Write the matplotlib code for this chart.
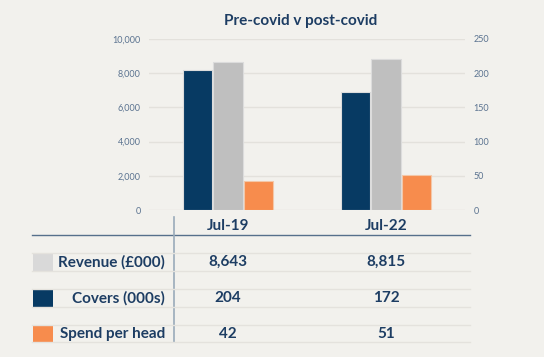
import matplotlib
matplotlib.use("Agg")
import matplotlib.pyplot as plt
from matplotlib.lines import Line2D
from matplotlib.patches import Rectangle

categories = ["Jul-19", "Jul-22"]
revenue = [8643, 8815]
covers = [204, 172]
spend = [42, 51]
row_labels = ["Revenue (£000)", "Covers (000s)", "Spend per head"]
row_values = [["8,643", "8,815"], ["204", "172"], ["42", "51"]]
left_ticks = [0, 2000, 4000, 6000, 8000, 10000]
right_ticks = [0, 50, 100, 150, 200, 250]

BG = "#f2f1ed"
NAVY = "#073a63"
GREY = "#bfbfbf"
ORANGE = "#f78c4d"
TXT = "#1d3d63"
TICK = "#5b7390"
FONT = "Lato"

W, H = 544, 357
fig = plt.figure(figsize=(W / 100, H / 100), dpi=100)
fig.patch.set_facecolor(BG)

def fx(px):
    return px / W

def fy(py):
    return 1 - py / H

ax = fig.add_axes([fx(149), fy(210), fx(465) - fx(149), fy(39) - fy(210)])
ax.set_facecolor(BG)
ax2 = ax.twinx()

x = list(range(len(categories)))
bw = 0.185
step = 0.193
ax2.bar([i - step for i in x], covers, width=bw, color=NAVY, edgecolor="#dcdcdc", linewidth=0.8, zorder=3)
ax.bar(x, revenue, width=bw, color=GREY, edgecolor="#dcdcdc", linewidth=0.8, zorder=3)
ax2.bar([i + step for i in x], spend, width=bw, color=ORANGE, edgecolor="#f3c7a8", linewidth=0.8, zorder=3)

ax.set_xlim(-0.5, len(categories) - 0.5)
ax.set_ylim(0, 10000)
ax2.set_ylim(0, 250)
ax.set_yticks(left_ticks)
ax.set_yticklabels([f"{v:,}" for v in left_ticks])
ax2.set_yticks(right_ticks)
ax2.set_yticklabels([str(v) for v in right_ticks])
ax.set_xticks([])
for a in (ax, ax2):
    for s in a.spines.values():
        s.set_visible(False)
    a.tick_params(axis="y", length=0, labelsize=6.5, labelcolor=TICK, pad=6)
    for lab in a.get_yticklabels():
        lab.set_fontfamily(FONT)
ax.grid(axis="y", color="#e3e1dc", linewidth=1, zorder=0)
ax.set_axisbelow(True)

fig.text(fx(301), fy(21), "Pre-covid v post-covid", ha="center", va="center",
         fontsize=11, color=TXT, fontfamily=FONT, fontweight="bold")

# table
col_x = [228, 386]
for i, c in enumerate(categories):
    fig.text(fx(col_x[i]), fy(226), c, ha="center", va="center", fontsize=11,
             color=TXT, fontfamily=FONT, fontweight="bold")

fig.add_artist(Line2D([fx(32), fx(470)], [fy(235), fy(235)], color="#56708c", linewidth=1))
fig.add_artist(Line2D([fx(174), fx(174)], [fy(217), fy(342)], color="#9aabba", linewidth=1.2))
for yl in [253, 271, 289, 307, 325, 342]:
    fig.add_artist(Line2D([fx(32), fx(470)], [fy(yl), fy(yl)], color="#e4e2dd", linewidth=1))

sq_colors = ["#d9d9d9", NAVY, ORANGE]
row_tops = [253, 289, 325]
for r, lab in enumerate(row_labels):
    top = row_tops[r]
    fig.add_artist(Rectangle((fx(33), fy(top + 18)), fx(53) - fx(33), fy(top) - fy(top + 18),
                             facecolor=sq_colors[r], edgecolor="none", transform=fig.transFigure))
    yc = top + 9
    fig.text(fx(165), fy(yc), lab, ha="right", va="center", fontsize=11, color=TXT,
             fontfamily=FONT, fontweight="bold")
    for i, v in enumerate(row_values[r]):
        fig.text(fx(col_x[i]), fy(yc), v, ha="center", va="center", fontsize=11,
                 color=TXT, fontfamily=FONT, fontweight="bold")

fig.savefig("out.png", dpi=100, facecolor=BG)
